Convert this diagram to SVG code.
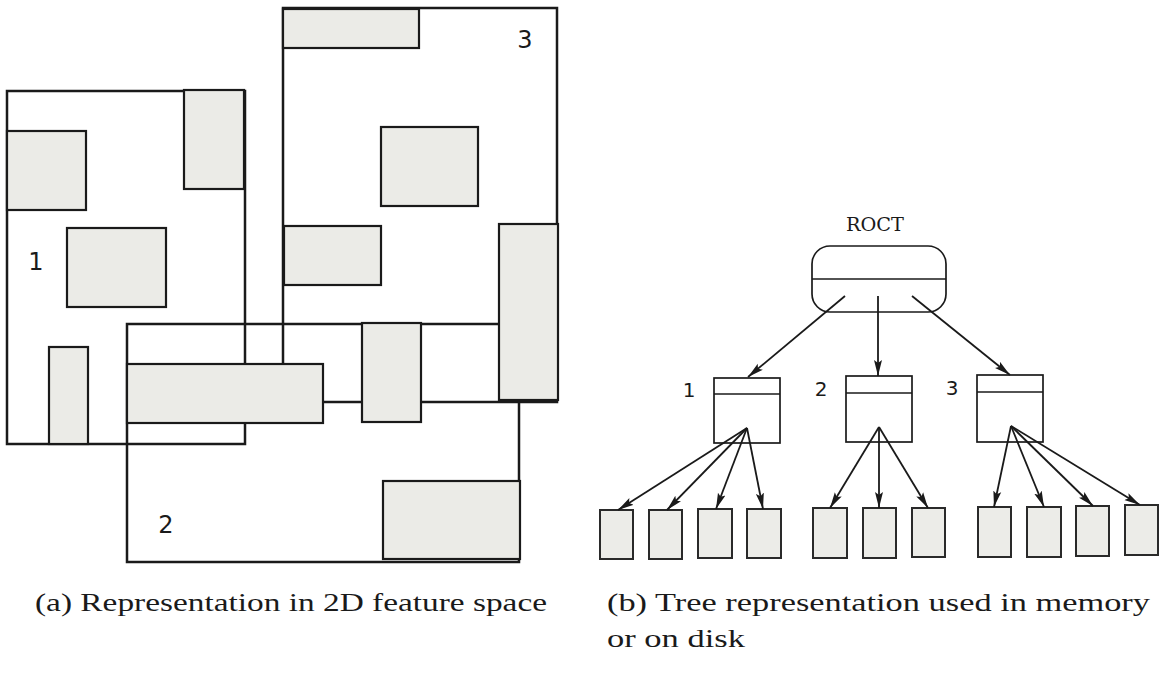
<svg xmlns="http://www.w3.org/2000/svg" width="1163" height="677" viewBox="0 0 1163 677">
  <style>
    .region { fill: none; stroke: #1a1a1a; stroke-width: 2.5; }
    .obj { fill: #ebebe7; stroke: #1a1a1a; stroke-width: 2.2; }
    .node { fill: #ffffff; stroke: #1a1a1a; stroke-width: 1.7; }
    .leaf { fill: #ececE8; stroke: #2a2a2a; stroke-width: 2; }
    .edge { fill: none; stroke: #1a1a1a; stroke-width: 1.8; marker-end: url(#arrow); }
    .num { font-family: "DejaVu Sans", "Liberation Sans", sans-serif; fill: #1a1a1a; }
    .mono { font-family: "DejaVu Serif", "Liberation Serif", serif; fill: #1a1a1a; }
    .cap { font-family: "Liberation Serif", "DejaVu Serif", serif; fill: #1a1a1a; font-size: 26px; }
  </style>
  <defs>
    <marker id="arrow" markerUnits="userSpaceOnUse" markerWidth="16" markerHeight="9" refX="16" refY="4.5" orient="auto">
      <path d="M0,0.5 L16,4.5 L0,8.5 L3,4.5 z" fill="#1a1a1a"/>
    </marker>
  </defs>
  <rect width="1163" height="677" fill="#ffffff"/>

  <!-- (a) bounding regions in 2D feature space -->
  <g id="feature-space">
    <g id="region-1">
      <rect class="region" x="7" y="91" width="238" height="353"/>
    </g>
    <g id="region-3">
      <rect class="region" x="283" y="8" width="274" height="394"/>
    </g>
    <g id="region-2">
      <rect class="region" x="127" y="324" width="392" height="238"/>
    </g>

    <!-- objects in region 1 -->
    <g id="objects-1">
      <rect class="obj" x="7" y="131" width="79" height="79"/>
      <rect class="obj" x="184" y="90" width="60" height="99"/>
      <rect class="obj" x="67" y="228" width="99" height="79"/>
      <rect class="obj" x="49" y="347" width="39" height="97"/>
    </g>
    <!-- objects in region 3 -->
    <g id="objects-3">
      <rect class="obj" x="283" y="9" width="136" height="39"/>
      <rect class="obj" x="381" y="127" width="97" height="79"/>
      <rect class="obj" x="284" y="226" width="97" height="59"/>
      <rect class="obj" x="499" y="224" width="59" height="176"/>
    </g>
    <!-- objects in region 2 -->
    <g id="objects-2">
      <rect class="obj" x="127" y="364" width="196" height="59"/>
      <rect class="obj" x="362" y="323" width="59" height="99"/>
      <rect class="obj" x="383" y="481" width="137" height="78"/>
    </g>

    <text class="num" x="36" y="270" font-size="24" text-anchor="middle">1</text>
    <text class="num" x="166" y="533" font-size="24" text-anchor="middle">2</text>
    <text class="num" x="525" y="48" font-size="24" text-anchor="middle">3</text>
  </g>

  <!-- (b) tree -->
  <g id="root">
    <text class="mono" x="875" y="231" font-size="18" text-anchor="middle" textLength="58" lengthAdjust="spacingAndGlyphs">ROCT</text>
    <rect class="node" x="812" y="246" width="134" height="66" rx="18" ry="18"/>
    <line class="node" x1="812" y1="279" x2="946" y2="279"/>
  </g>

  <g id="node-1">
    <rect class="node" x="714" y="378" width="66" height="65"/>
    <line class="node" x1="714" y1="394" x2="780" y2="394"/>
    <text class="num" x="689" y="397" font-size="20" text-anchor="middle">1</text>
  </g>
  <g id="node-2">
    <rect class="node" x="846" y="376" width="66" height="66"/>
    <line class="node" x1="846" y1="393" x2="912" y2="393"/>
    <text class="num" x="821" y="396" font-size="20" text-anchor="middle">2</text>
  </g>
  <g id="node-3">
    <rect class="node" x="977" y="375" width="66" height="67"/>
    <line class="node" x1="977" y1="392" x2="1043" y2="392"/>
    <text class="num" x="952" y="395" font-size="20" text-anchor="middle">3</text>
  </g>

  <g id="leaves-1">
    <rect class="leaf" x="600" y="510" width="33" height="49"/>
    <rect class="leaf" x="649" y="510" width="33" height="49"/>
    <rect class="leaf" x="698" y="509" width="34" height="49"/>
    <rect class="leaf" x="747" y="509" width="34" height="49"/>
  </g>
  <g id="leaves-2">
    <rect class="leaf" x="813" y="508" width="34" height="50"/>
    <rect class="leaf" x="863" y="508" width="33" height="50"/>
    <rect class="leaf" x="912" y="508" width="33" height="49"/>
  </g>
  <g id="leaves-3">
    <rect class="leaf" x="978" y="507" width="33" height="50"/>
    <rect class="leaf" x="1027" y="507" width="34" height="50"/>
    <rect class="leaf" x="1076" y="506" width="33" height="50"/>
    <rect class="leaf" x="1125" y="505" width="33" height="50"/>
  </g>

  <g id="connectors">
    <line class="edge" x1="845" y1="296" x2="748" y2="377"/>
    <line class="edge" x1="878" y1="296" x2="878" y2="376"/>
    <line class="edge" x1="912" y1="296" x2="1010" y2="375"/>

    <line class="edge" x1="747" y1="428" x2="618" y2="510"/>
    <line class="edge" x1="747" y1="428" x2="667" y2="510"/>
    <line class="edge" x1="747" y1="428" x2="716" y2="509"/>
    <line class="edge" x1="747" y1="428" x2="763" y2="509"/>

    <line class="edge" x1="879" y1="427" x2="830" y2="508"/>
    <line class="edge" x1="879" y1="427" x2="879" y2="508"/>
    <line class="edge" x1="879" y1="427" x2="928" y2="508"/>

    <line class="edge" x1="1011" y1="426" x2="994" y2="507"/>
    <line class="edge" x1="1011" y1="426" x2="1044" y2="507"/>
    <line class="edge" x1="1011" y1="426" x2="1093" y2="506"/>
    <line class="edge" x1="1011" y1="426" x2="1140" y2="505"/>
  </g>

  <g id="captions">
    <text class="cap" x="35" y="611" textLength="512" lengthAdjust="spacingAndGlyphs">(a) Representation in 2D feature space</text>
    <text class="cap" x="607" y="611" textLength="543" lengthAdjust="spacingAndGlyphs">(b) Tree representation used in memory</text>
    <text class="cap" x="607" y="647" textLength="138" lengthAdjust="spacingAndGlyphs">or on disk</text>
  </g>
</svg>
